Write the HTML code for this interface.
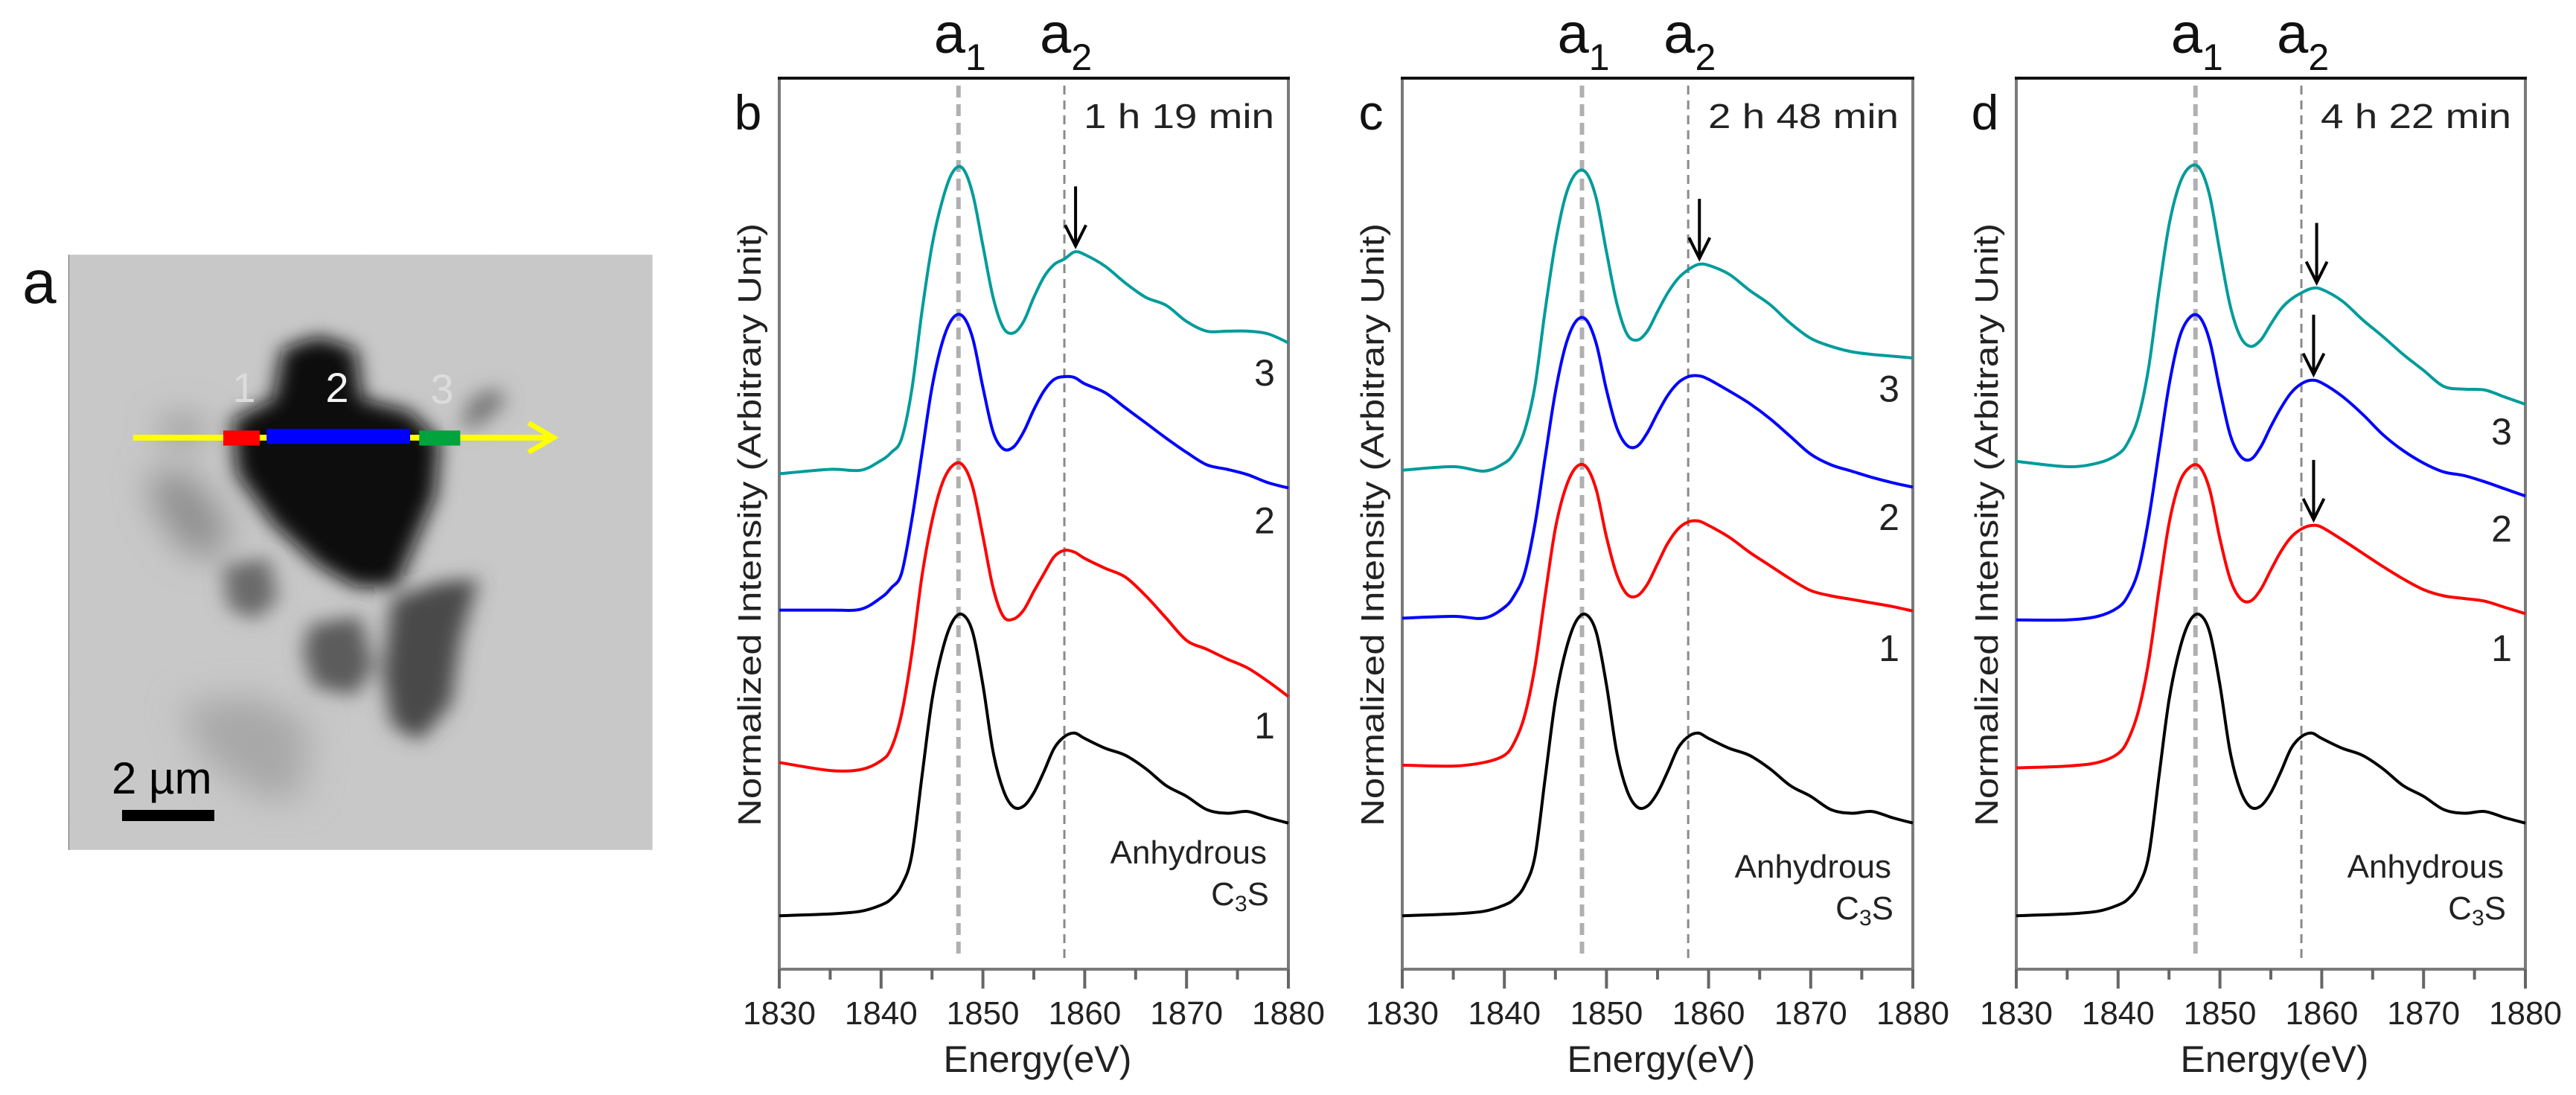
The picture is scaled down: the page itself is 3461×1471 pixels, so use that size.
<!DOCTYPE html>
<html><head><meta charset="utf-8"><style>
html,body{margin:0;padding:0;background:#fff;}
svg{display:block;font-family:"Liberation Sans",sans-serif;}
</style></head><body>
<svg id="fig" width="3461" height="1471" viewBox="0 0 3461 1471" xmlns="http://www.w3.org/2000/svg">
<defs>
<filter id="blur" x="-30%" y="-30%" width="160%" height="160%"><feGaussianBlur stdDeviation="22"/></filter>
<filter id="blur2" x="-30%" y="-30%" width="160%" height="160%"><feGaussianBlur stdDeviation="40"/></filter>
<filter id="noise"><feTurbulence type="fractalNoise" baseFrequency="0.35" numOctaves="2" result="n"/><feColorMatrix type="matrix" values="0 0 0 0 0.5  0 0 0 0 0.5  0 0 0 0 0.5  0 0 0 0.18 0"/></filter>
<clipPath id="imgclip"><rect x="150" y="75" width="1282" height="1425"/></clipPath>
</defs>
<rect width="3461" height="1471" fill="#fff"/>

<!-- Panel a -->
<text x="30" y="407" font-size="82" fill="#111">a</text>
<svg x="0" y="300" width="960" height="880" viewBox="0 0 1568 1568" preserveAspectRatio="none">
<g clip-path="url(#imgclip)">
<rect x="150" y="75" width="1282" height="1425" fill="#c9c9c9"/>
<rect x="150" y="75" width="1282" height="1425" filter="url(#noise)"/>
<g filter="url(#blur2)">
<path d="M330,590 L420,600 L500,720 L480,810 L400,780 L340,680 Z" fill="#8e8e8e"/>
<path d="M400,1150 L560,1130 L680,1200 L660,1380 L560,1370 L440,1270 Z" fill="#a8a8a8"/>
<ellipse cx="400" cy="495" rx="45" ry="35" fill="#909090"/>
</g>
<g filter="url(#blur)">
<path d="M490,820 L590,800 L610,900 L560,950 L500,920 Z" fill="#6a6a6a"/>
<path d="M680,960 L790,940 L820,1060 L780,1130 L690,1110 L665,1030 Z" fill="#5c5c5c"/>
<path d="M860,900 L960,860 L1050,850 L1010,1000 L990,1150 L920,1240 L860,1200 L840,1080 Z" fill="#4a4a4a"/>
<path d="M1030,420 L1090,390 L1110,430 L1060,480 L1010,500 Z" fill="#7a7a7a"/>
<path d="M620,300 L700,270 L780,300 L795,420 L900,450 L965,520 L955,650 L905,780 L870,870 L780,870 L700,820 L600,720 L520,600 L510,470 L600,420 Z" fill="#0c0c0c"/>
</g>
<line x1="150" y1="75" x2="150" y2="1500" stroke="#777" stroke-width="4"/>
<line x1="292" y1="513" x2="1210" y2="513" stroke="#ffff00" stroke-width="14"/>
<path d="M1160,478 L1215,513 L1160,548" fill="none" stroke="#ffff00" stroke-width="12"/>
<rect x="490" y="496" width="80" height="36" fill="#ff0000"/>
<rect x="585" y="492" width="315" height="36" fill="#0000ff"/>
<rect x="920" y="496" width="90" height="36" fill="#00a33c"/>
</g>
</svg>
<g font-size="56" fill="#e6e6e6" text-anchor="middle">
<text x="328" y="540" fill="#dcdcdc">1</text>
<text x="453" y="540" fill="#f4f4f4">2</text>
<text x="594" y="542" fill="#dcdcdc">3</text>
</g>
<text x="150" y="1066" font-size="60" fill="#000">2 µm</text>
<rect x="164" y="1088" width="124" height="15" fill="#000"/>

<g id="panels"></g>
</svg>
<script>
const NS='http://www.w3.org/2000/svg';
// ---- data ----
const energy=[1830,1835,1838,1840,1841,1842,1843,1844,1845,1846,1847,1848,1849,1850,1851,1852,1853,1854,1855,1856,1857,1858,1859,1860,1862,1864,1866,1868,1870,1872,1874,1876,1878,1880];
const xTicks=[1830,1840,1850,1860,1870,1880];
const xMinor=[1835,1845,1855,1865,1875];
const panelLetters=['b','c','d'];
const panelTimes=['1 h 19 min','2 h 48 min','4 h 22 min'];
const anhydrous=[6.0,6.2,6.5,7.2,7.9,9.4,12.7,21.5,30.2,35.7,39.0,39.8,37.8,31.9,24.4,20.1,18.2,18.3,19.8,22.2,24.8,26.1,26.5,25.9,24.8,24.0,22.5,20.6,19.4,17.9,17.5,17.7,17.0,16.4];
const b1=[23.2,22.3,22.4,23.4,24.8,28.6,35.3,44.0,50.3,54.5,56.5,56.6,54.1,48.6,42.8,39.6,39.3,40.3,42.4,44.4,46.3,47.0,46.8,46.1,45.0,44.0,41.9,39.4,36.9,35.9,34.8,33.8,32.3,30.6];
const b2=[40.3,40.3,40.4,41.7,42.8,44.4,50.3,57.8,65.3,70.3,73.0,73.3,70.8,65.3,60.3,58.4,58.6,60.3,62.8,64.9,66.2,66.5,66.4,65.7,64.7,63.0,61.3,59.6,58.0,56.6,56.1,55.5,54.6,54.0];
const b3=[55.6,56.1,56.0,57.1,58.0,59.5,64.9,73.7,81.2,86.2,89.4,89.9,87.0,81.2,75.4,72.0,71.4,72.7,75.4,77.7,79.1,79.7,80.5,80.2,78.9,77.0,75.4,74.5,72.7,71.6,71.6,71.6,71.3,70.3];
const c1=[22.9,22.8,23.2,24.0,25.5,28.5,34.0,42.0,49.5,54.0,56.3,56.4,53.8,48.5,44.3,42.1,41.9,43.2,45.5,47.8,49.4,50.2,50.3,49.8,48.5,46.8,45.3,43.8,42.5,41.9,41.5,41.1,40.7,40.2];
const c2=[39.4,39.6,39.4,40.6,42.0,44.5,50.0,57.5,64.8,70.0,72.7,72.9,70.2,65.0,60.8,58.8,58.7,60.2,62.4,64.4,65.8,66.5,66.6,66.2,64.9,63.5,61.8,59.8,57.8,56.6,55.9,55.2,54.6,54.1];
const c3=[56.0,56.4,55.9,56.8,58.0,60.5,65.5,74.0,81.5,86.8,89.3,89.4,86.5,80.5,74.8,71.3,70.6,71.6,73.8,75.9,77.5,78.5,79.1,79.0,78.0,76.2,74.6,72.5,70.8,69.9,69.3,69.0,68.8,68.6];
const d1=[22.6,22.8,23.2,24.2,25.8,29.0,34.5,42.5,50.0,54.5,56.3,56.4,53.8,48.3,43.8,41.6,41.3,42.6,44.8,46.9,48.5,49.4,49.8,49.6,48.2,46.7,45.2,43.8,42.6,41.9,41.6,41.3,40.6,39.9];
const d2=[39.2,39.2,39.6,40.6,42.0,44.8,50.5,58.0,65.5,70.8,73.1,73.2,70.5,65.0,60.0,57.6,57.2,58.6,60.9,63.0,64.7,65.7,66.1,65.8,64.3,62.3,60.0,58.2,56.8,55.8,55.4,54.7,53.9,53.1];
const d3=[57.0,56.4,56.8,57.8,59.2,62.0,67.5,76.0,83.5,88.0,90.0,89.9,86.8,80.5,74.5,71.0,69.9,70.6,72.4,74.1,75.2,75.9,76.4,76.3,75.0,72.9,71.0,69.0,67.2,65.4,65.1,65.0,64.2,63.4];
const panelSeries=[[anhydrous,b1,b2,b3],[anhydrous,c1,c2,c3],[anhydrous,d1,d2,d3]];
const peakA1=1847.6, peakA2=1858.0;
const arrowEnergies=[[1859.1],[1859.1],[1859.5,1859.2,1859.2]];
const arrowValues=[[80.5],[79.1],[76.4,66.1,49.8]];
const curveLabelVals=[[25.9,48.9,65.5],[34.6,49.3,63.7],[34.6,48.0,58.9]];

// ---- layout ----
const lefts=[1047,1884,2709], rights=[1731,2570,3393];
const TOP=105, BOT=1302;
const colors=['#000000','#ff0000','#0000ff','#009b9b'];
const names=['anhydrous-c3s-curve','region-1-curve','region-2-curve','region-3-curve'];
const root=document.getElementById('panels');
function el(tag,attrs,parent){const e=document.createElementNS(NS,tag);for(const k in attrs)e.setAttribute(k,attrs[k]);(parent||root).appendChild(e);return e;}
function smoothPath(pts){let d='M'+pts[0][0].toFixed(1)+','+pts[0][1].toFixed(1);
 for(let i=0;i<pts.length-1;i++){const p0=pts[i-1]||pts[i],p1=pts[i],p2=pts[i+1],p3=pts[i+2]||p2;
  const c1x=p1[0]+(p2[0]-p0[0])/6,c1y=p1[1]+(p2[1]-p0[1])/6,c2x=p2[0]-(p3[0]-p1[0])/6,c2y=p2[1]-(p3[1]-p1[1])/6;
  d+=' C'+c1x.toFixed(1)+','+c1y.toFixed(1)+' '+c2x.toFixed(1)+','+c2y.toFixed(1)+' '+p2[0].toFixed(1)+','+p2[1].toFixed(1);}
 return d;}
for(let p=0;p<3;p++){
 const L=lefts[p],R=rights[p];
 const xs=e=>L+(e-1830)/50*(R-L);
 const ys=v=>BOT-v/100*(BOT-TOP);
 const g=el('g',{});
 
 
 const fr=el('path',{d:`M${L},${TOP} V${BOT} H${R} V${TOP}`,fill:'none',stroke:'#7a7a7a','stroke-width':4},g);
 
 
 const tl=el('line',{x1:L-2,y1:TOP,x2:R+2,y2:TOP,stroke:'#111','stroke-width':4},g);
 
 
 xTicks.forEach(t=>{const ln=el('line',{x1:xs(t),y1:BOT,x2:xs(t),y2:BOT+26,stroke:'#666','stroke-width':4},g);
  
  
  const tx=el('text',{x:xs(t),y:1376,'font-size':44,'text-anchor':'middle',fill:'#222'},g);tx.textContent=t;
  
  });
 xMinor.forEach(t=>{const ln=el('line',{x1:xs(t),y1:BOT,x2:xs(t),y2:BOT+14,stroke:'#666','stroke-width':4},g);
  
  });
 const xt=el('text',{x:(L+R)/2+5,y:1440,'font-size':50,'text-anchor':'middle',fill:'#222'},g);xt.textContent='Energy(eV)';
 
 
 const yx=L-40;
 const yt=el('text',{x:0,y:0,'font-size':44,'text-anchor':'middle',fill:'#222',transform:`translate(${yx+15},705) rotate(-90)`,textLength:810,lengthAdjust:'spacingAndGlyphs'},g);
 yt.textContent='Normalized Intensity (Arbitrary Unit)';
 
 
 const pl=el('text',{x:L-42,y:174,'font-size':66,'text-anchor':'middle',fill:'#111'},g);pl.textContent=panelLetters[p];
 
 
 const tm=el('text',{x:R-19,y:172,'font-size':46,'text-anchor':'end',fill:'#222',textLength:256,lengthAdjust:'spacingAndGlyphs'},g);tm.textContent=panelTimes[p];
 
 
 const dl1=el('line',{x1:xs(peakA1),y1:115,x2:xs(peakA1),y2:1290,stroke:'#b0b0b0','stroke-width':6,'stroke-dasharray':'16 9'},g);
 
 
 const dl2=el('line',{x1:xs(peakA2),y1:115,x2:xs(peakA2),y2:1290,stroke:'#8a8a8a','stroke-width':3,'stroke-dasharray':'12 8'},g);
 
 
 const a1=el('text',{x:xs(peakA1)-33,y:71,'font-size':76,fill:'#111'},g);a1.innerHTML='a<tspan font-size="50" dy="23">1</tspan>';
 
 
 const a2=el('text',{x:xs(peakA2)-33,y:71,'font-size':76,fill:'#111'},g);a2.innerHTML='a<tspan font-size="50" dy="23">2</tspan>';
 
 
 panelSeries[p].forEach((s,i)=>{const pts=energy.map((e,k)=>[xs(e),ys(s[k])]);
  const pa=el('path',{d:smoothPath(pts),fill:'none',stroke:colors[i],'stroke-width':4,'stroke-linejoin':'round'},g);
  
  });
 curveLabelVals[p].forEach((v,i)=>{const t=el('text',{x:R-32,y:ys(v),'font-size':50,'text-anchor':'middle',fill:'#222'},g);t.textContent=String(i+1);
  
  });
 const an=el('text',{x:R-29,y:p===0?1160:1179,'font-size':44,'text-anchor':'end',fill:'#222'},g);an.textContent='Anhydrous';
 
 
 const cs=el('text',{x:R-26,y:p===0?1216:1235,'font-size':44,'text-anchor':'end',fill:'#222'},g);cs.innerHTML='C<tspan font-size="30" dy="8">3</tspan><tspan dy="-8">S</tspan>';
 
 
 arrowEnergies[p].forEach((e,i)=>{const x=xs(e),yb=ys(arrowValues[p][i])-8,yt2=yb-80;
  const ag=el('g',{},g);
  
  
  el('line',{x1:x,y1:yt2,x2:x,y2:yb-4,stroke:'#000','stroke-width':4},ag);
  el('path',{d:`M${x-14},${yb-28} L${x},${yb} L${x+14},${yb-28}`,fill:'none',stroke:'#000','stroke-width':4},ag);});
}
</script>
</body></html>
